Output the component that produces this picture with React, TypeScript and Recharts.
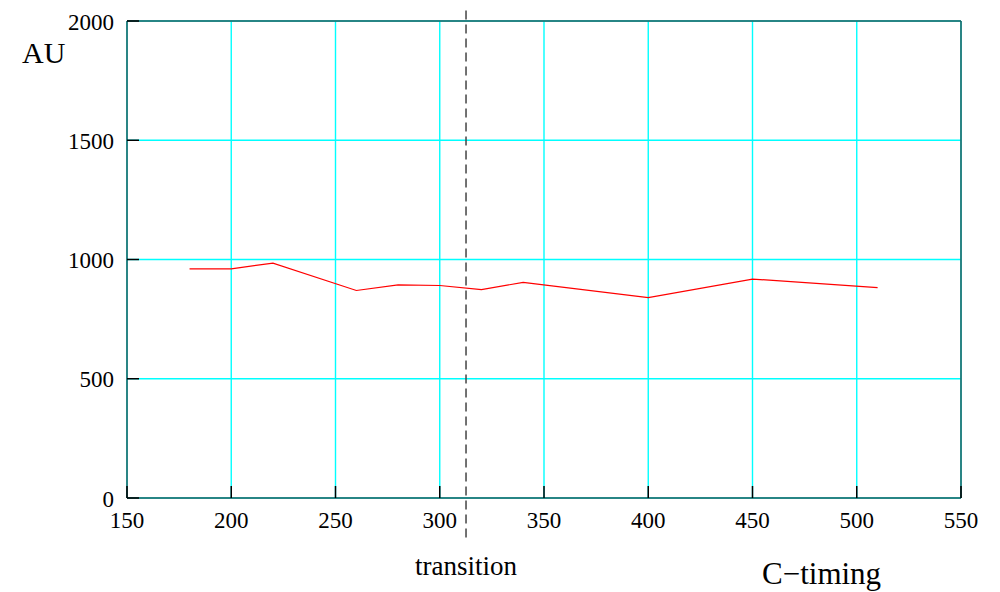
import React from "react";
import {
  LineChart,
  Line,
  XAxis,
  YAxis,
  CartesianGrid,
  ReferenceLine,
} from "recharts";

// C-timing values and the AU
const timing = [180, 200, 220, 260, 280, 300, 320, 340, 400, 450, 510];
const auValues = [961, 961, 985, 870, 894, 891, 874, 904, 840, 918, 882];

const xTicks = [150, 200, 250, 300, 350, 400, 450, 500, 550];
const yTicks = [0, 500, 1000, 1500, 2000];
const transitionX = 312.6;

const FONT = "'Liberation Serif', 'Times New Roman', serif";
const FRAME = "#1f5c5c";
const TICK_LEN = 12;

const data = timing.map((t, i) => ({ x: t, au: auValues[i] }));

const BottomTick = (props: any) => {
  const { x, y, payload } = props;
  return (
    <g>
      <line x1={x} x2={x} y1={y} y2={y - TICK_LEN} stroke="#000" strokeWidth={1.5} />
      <text x={x} y={y + 30} textAnchor="middle" fontSize={23} fontFamily={FONT} fill="#000">
        {payload.value}
      </text>
    </g>
  );
};

const TopTick = (props: any) => {
  const { x, y } = props;
  return <line x1={x} x2={x} y1={y} y2={y + TICK_LEN} stroke="#000" strokeWidth={1.5} />;
};

const LeftTick = (props: any) => {
  const { x, y, payload } = props;
  return (
    <g>
      <line x1={x} x2={x + TICK_LEN} y1={y} y2={y} stroke="#000" strokeWidth={1.5} />
      <text x={x - 13} y={y + 8.5} textAnchor="end" fontSize={23} fontFamily={FONT} fill="#000">
        {payload.value}
      </text>
    </g>
  );
};

const RightTick = (props: any) => {
  const { x, y } = props;
  return <line x1={x} x2={x - TICK_LEN} y1={y} y2={y} stroke="#000" strokeWidth={1.5} />;
};

export default function App() {
  return (
    <div style={{ position: "absolute", left: 0, top: 0, width: 1000, height: 592, background: "#fff" }}>
      <LineChart
        width={1000}
        height={592}
        data={data}
        margin={{ top: 0, right: 0, bottom: 64, left: 67 }}
      >
        <CartesianGrid stroke="#00ffff" strokeWidth={1.4} />
        <XAxis
          dataKey="x"
          type="number"
          domain={[150, 550]}
          ticks={xTicks}
          interval={0}
          height={30}
          tickSize={0}
          tickMargin={0}
          tickLine={false}
          axisLine={{ stroke: FRAME, strokeWidth: 1.5 }}
          tick={BottomTick}
        />
        <XAxis
          xAxisId="top"
          orientation="top"
          type="number"
          domain={[150, 550]}
          ticks={xTicks}
          interval={0}
          height={21}
          tickSize={0}
          tickMargin={0}
          tickLine={false}
          axisLine={{ stroke: FRAME, strokeWidth: 1.5 }}
          tick={TopTick}
        />
        <YAxis
          type="number"
          domain={[0, 2000]}
          ticks={yTicks}
          interval={0}
          width={60}
          tickSize={0}
          tickMargin={0}
          tickLine={false}
          axisLine={{ stroke: FRAME, strokeWidth: 1.5 }}
          tick={LeftTick}
        />
        <YAxis
          yAxisId="right"
          orientation="right"
          type="number"
          domain={[0, 2000]}
          ticks={yTicks}
          interval={0}
          width={39}
          tickSize={0}
          tickMargin={0}
          tickLine={false}
          axisLine={{ stroke: FRAME, strokeWidth: 1.5 }}
          tick={RightTick}
        />
        <ReferenceLine
          segment={[
            { x: transitionX, y: -166 },
            { x: transitionX, y: 2052 },
          ]}
          ifOverflow="visible"
          stroke="#444"
          strokeWidth={1.5}
          strokeDasharray="9 5"
        />
        <Line
          dataKey="au"
          type="linear"
          stroke="#ff0000"
          strokeWidth={1.2}
          dot={false}
          isAnimationActive={false}
        />
      </LineChart>
      <svg
        width={1000}
        height={592}
        style={{ position: "absolute", left: 0, top: 0, pointerEvents: "none" }}
      >
        <text x={22} y={63} fontSize={30} fontFamily={FONT} fill="#000">AU</text>
        <text x={466} y={575} textAnchor="middle" fontSize={27} fontFamily={FONT} fill="#000">
          transition
        </text>
        <text x={762} y={584} fontSize={31} fontFamily={FONT} fill="#000">C−timing</text>
      </svg>
    </div>
  );
}
